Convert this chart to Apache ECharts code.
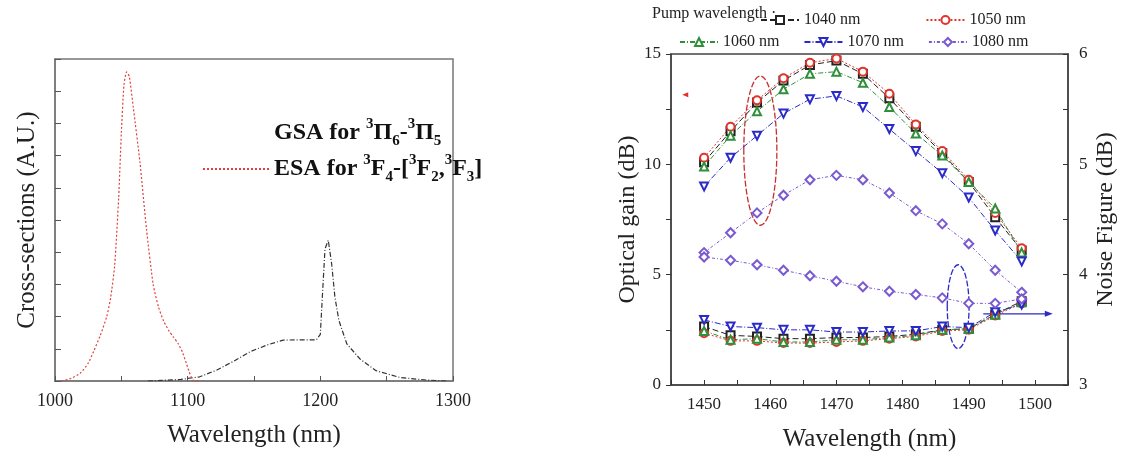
<!DOCTYPE html>
<html><head><meta charset="utf-8">
<script src="https://cdn.jsdelivr.net/npm/echarts@6/dist/echarts.min.js"></script>
<style>html,body{margin:0;padding:0;background:#fff}#c{width:1123px;height:457px}</style>
</head><body><div id="c"></div>
<script>
// ---- Left panel: cross-sections ----
const esaX = [1005,1012,1019,1025,1029,1034,1039,1042,1045,1048,1050,1052,1054,1056,1059,1064,1069,1074,1078,1082,1086,1089,1093,1096,1099,1101,1104,1110];
const esaY = [0,0.08,0.24,0.55,0.91,1.4,2.0,2.6,3.6,5.7,7.7,9.2,9.6,9.45,8.5,6.8,4.7,3.0,2.3,1.85,1.55,1.38,1.15,0.9,0.55,0.3,0.03,0];
const gsaX = [1070,1080,1095,1109,1122,1134,1147,1160,1172,1185,1197,1200,1201.5,1203.5,1206,1208.5,1211,1214,1220,1230,1242,1260,1280,1295];
const gsaY = [0,0.02,0.05,0.13,0.34,0.6,0.91,1.12,1.27,1.28,1.28,1.45,2.6,4.1,4.37,3.65,2.6,1.88,1.15,0.68,0.32,0.11,0.03,0];

// ---- Right panel: gain and noise figure ----
const sigX = [1450,1454,1458,1462,1466,1470,1474,1478,1482,1486,1490,1494,1498];
const pumpNames = ['1040 nm','1050 nm','1060 nm','1070 nm','1080 nm'];
const gain1040 = [10.1,11.5,12.8,13.8,14.5,14.7,14.1,13.0,11.7,10.5,9.2,7.6,6.1];
const gain1050 = [10.3,11.7,12.9,13.9,14.6,14.8,14.2,13.2,11.8,10.6,9.3,7.8,6.2];
const gain1060 = [9.9,11.3,12.4,13.4,14.1,14.2,13.7,12.6,11.4,10.4,9.2,8.0,6.0];
const gain1070 = [9.0,10.3,11.3,12.3,12.95,13.1,12.6,11.6,10.6,9.6,8.5,7.0,5.6];
const gain1080 = [6.0,6.9,7.8,8.6,9.3,9.5,9.3,8.7,7.9,7.3,6.4,5.2,4.2];
const nf1040 = [3.53,3.45,3.44,3.42,3.42,3.43,3.43,3.44,3.46,3.50,3.51,3.64,3.76];
const nf1050 = [3.47,3.40,3.40,3.38,3.38,3.39,3.40,3.42,3.44,3.49,3.50,3.63,3.74];
const nf1060 = [3.49,3.41,3.42,3.39,3.39,3.41,3.41,3.43,3.45,3.50,3.51,3.64,3.75];
const nf1070 = [3.59,3.53,3.52,3.50,3.50,3.48,3.48,3.49,3.49,3.53,3.52,3.66,3.73];
const nf1080 = [4.16,4.13,4.09,4.04,3.99,3.94,3.89,3.85,3.82,3.79,3.74,3.74,3.78];

const gains = [gain1040,gain1050,gain1060,gain1070,gain1080];
const nfs = [nf1040,nf1050,nf1060,nf1070,nf1080];
const colors = ['#222222','#e0342c','#2f8f3a','#2a2ac8','#7a5ad0'];
const symbols = ['emptyRect','emptyCircle','emptyTriangle','emptyTriangle','emptyDiamond'];
const rots = [0,0,0,180,0];
const dashes = [[6,3],[2,2],[5,2,1,2],[6,2,1,2],[3,2,1,2]];

const zip = (xs, ys) => xs.map((x,i)=>[x, ys[i]]);
const serif = 'Liberation Serif, Times New Roman, serif';

const series = [
  {type:'line', name:'GSA', xAxisIndex:0, yAxisIndex:0, data: zip(gsaX,gsaY), symbol:'none',
   lineStyle:{color:'#333', width:1.2, type:[5,2,1,2]}},
  {type:'line', name:'ESA', xAxisIndex:0, yAxisIndex:0, data: zip(esaX,esaY), symbol:'none', smooth:0.2,
   lineStyle:{color:'#e04040', width:1.2, type:[2,2]}, itemStyle:{color:'#e04040'}}
];
pumpNames.forEach((n,k)=>{
  [[gains[k],1],[nfs[k],2]].forEach(([arr,yi])=>{
    series.push({type:'line', name:n, xAxisIndex:1, yAxisIndex:yi, data: zip(sigX,arr),
      symbol:symbols[k], symbolRotate:rots[k], symbolSize: k===4?9:8,
      color: colors[k], itemStyle:{color:colors[k], borderWidth:1.1},
      lineStyle:{color:colors[k], width:1, type:dashes[k]}});
  });
});

const richL = {
  b:{fontFamily:serif, fontWeight:'bold', fontSize:24, color:'#111', lineHeight:32, verticalAlign:'middle'},
  sup:{fontFamily:serif, fontWeight:'bold', fontSize:15, color:'#111', lineHeight:32, verticalAlign:'top'},
  sub:{fontFamily:serif, fontWeight:'bold', fontSize:15, color:'#111', lineHeight:32, verticalAlign:'bottom'}
};

const chart = echarts.init(document.getElementById('c'), null, {renderer:'canvas'});
const option = {
  backgroundColor:'#fff',
  animation:false,
  grid:[
    {left:55, right:670, top:59, bottom:76, show:true, borderColor:'#777', borderWidth:1.5},
    {left:671, right:55, top:54, bottom:71, show:true, borderColor:'#444', borderWidth:1.5}
  ],
  xAxis:[
    {type:'value', gridIndex:0, min:1000, max:1300, interval:50,
     axisLine:{lineStyle:{color:'#777', width:1.5}}, axisTick:{inside:true, length:5, lineStyle:{color:'#555'}},
     splitLine:{show:false},
     axisLabel:{fontFamily:serif, fontSize:18, color:'#222', margin:11, formatter:v=> v%100===0? String(v):''},
     name:'Wavelength (nm)', nameLocation:'middle', nameGap:42, nameTextStyle:{fontFamily:serif, fontSize:25, color:'#222'}},
    {type:'value', gridIndex:1, min:1445, max:1505, interval:5,
     axisLine:{lineStyle:{color:'#444', width:1.5}}, axisTick:{inside:true, length:5, lineStyle:{color:'#333'}},
     splitLine:{show:false},
     axisLabel:{fontFamily:serif, fontSize:17, color:'#222', margin:11, formatter:v=> v%10===0? String(v):''},
     name:'Wavelength (nm)', nameLocation:'middle', nameGap:42, nameTextStyle:{fontFamily:serif, fontSize:25, color:'#222'}}
  ],
  yAxis:[
    {type:'value', gridIndex:0, min:0, max:10, interval:1,
     axisLine:{show:true, lineStyle:{color:'#777', width:1.5}}, axisTick:{show:true, inside:true, length:6, lineStyle:{color:'#555'}},
     splitLine:{show:false}, axisLabel:{show:false},
     name:'Cross-sections (A.U.)', nameLocation:'middle', nameGap:15, nameRotate:90,
     nameTextStyle:{fontFamily:serif, fontSize:25, color:'#222'}},
    {type:'value', gridIndex:1, min:0, max:15, interval:2.5, position:'left',
     axisLine:{show:true, lineStyle:{color:'#444', width:1.5}}, axisTick:{show:true, length:5, lineStyle:{color:'#333'}},
     splitLine:{show:false},
     axisLabel:{fontFamily:serif, fontSize:17, color:'#222', margin:10, formatter:v=> v%5===0? String(v):''},
     name:'Optical gain (dB)', nameLocation:'middle', nameGap:22, nameRotate:90,
     nameTextStyle:{fontFamily:serif, fontSize:24, color:'#222'}},
    {type:'value', gridIndex:1, min:3, max:6, interval:0.5, position:'right',
     axisLine:{show:true, lineStyle:{color:'#444', width:1.5}}, axisTick:{show:true, inside:true, length:5, lineStyle:{color:'#333'}},
     splitLine:{show:false},
     axisLabel:{fontFamily:serif, fontSize:17, color:'#222', margin:11, formatter:v=> Number.isInteger(v)? String(v):''},
     name:'Noise Figure (dB)', nameLocation:'middle', nameGap:26, nameRotate:90,
     nameTextStyle:{fontFamily:serif, fontSize:24, color:'#222', verticalAlign:'top'}}
  ],
  legend:[
    {orient:'vertical', left:197, top:112, itemWidth:66, itemHeight:12, itemGap:4,
     data:[{name:'GSA', lineStyle:{opacity:0}, itemStyle:{opacity:0}}, {name:'ESA', itemStyle:{opacity:0}}],
     textStyle:{rich:richL, padding:[0,0,0,0]},
     formatter:n=> n==='GSA' ? '{b|GSA for }{sup|3}{b|Π}{sub|6}{b|-}{sup|3}{b|Π}{sub|5}'
                              : '{b|ESA for }{sup|3}{b|F}{sub|4}{b|-[}{sup|3}{b|F}{sub|2}{b|,}{sup|3}{b|F}{sub|3}{b|]}'},
    {left:755, top:7, itemWidth:38, itemHeight:10, itemGap:65, data:['1040 nm','1050 nm'],
     textStyle:{fontFamily:serif, fontSize:16, color:'#222'}},
    {left:674, top:29, itemWidth:38, itemHeight:10, itemGap:24, data:['1060 nm','1070 nm','1080 nm'],
     textStyle:{fontFamily:serif, fontSize:16, color:'#222'}}
  ],
  series: series
};
chart.setOption(option);

// annotations placed through the axes
const pG = v => chart.convertToPixel({xAxisIndex:1, yAxisIndex:1}, v);
const pN = v => chart.convertToPixel({xAxisIndex:1, yAxisIndex:2}, v);
const rc = pG([1458.5,10.62]), rEdge = pG([1461,14.0]);
const bc = pN([1488.4,3.71]), bEdge = pN([1490.05,4.09]);
const ra = pG([1446.7,13.15]);
const ba0 = pN([1492.2,3.645]), ba1 = pN([1502.7,3.645]);
chart.setOption({graphic:[
  {type:'text', left:652, top:6, style:{text:'Pump wavelength ·', fontFamily:serif, fontSize:16, fill:'#222'}},
  {type:'ellipse', shape:{cx:rc[0], cy:rc[1], rx:rEdge[0]-rc[0], ry:rc[1]-rEdge[1]},
   style:{fill:'none', stroke:'#c83030', lineWidth:1.3, lineDash:[6,2]}},
  {type:'ellipse', shape:{cx:bc[0], cy:bc[1], rx:bEdge[0]-bc[0], ry:bc[1]-bEdge[1]},
   style:{fill:'none', stroke:'#2a2ac8', lineWidth:1.3, lineDash:[6,2]}},
  {type:'polygon', shape:{points:[[ra[0],ra[1]],[ra[0]+6,ra[1]-2.5],[ra[0]+6,ra[1]+2.5]]}, style:{fill:'#e03030'}},
  {type:'line', shape:{x1:ba0[0], y1:ba0[1], x2:ba1[0]-6, y2:ba1[1]}, style:{stroke:'#2a2ac8', lineWidth:1.3}},
  {type:'polygon', shape:{points:[[ba1[0],ba1[1]],[ba1[0]-8,ba1[1]-3],[ba1[0]-8,ba1[1]+3]]}, style:{fill:'#2a2ac8'}}
]});
</script></body></html>
